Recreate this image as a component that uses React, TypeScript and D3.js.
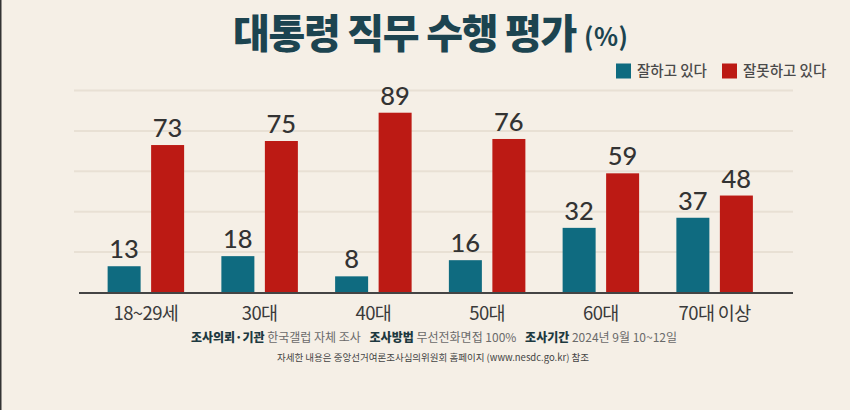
import React from "react";
import * as d3 from "d3";

const categories = ["18~29세", "30대", "40대", "50대", "60대", "70대 이상"];
const goodValues = [13, 18, 8, 16, 32, 37];
const badValues = [73, 75, 89, 76, 59, 48];
const seriesNames = ["잘하고 있다", "잘못하고 있다"];
const gridTicks = [20, 40, 60, 80, 100];

const W = 850;
const H = 410;
const TEAL = "#0f6b80";
const RED = "#bc1a14";
const BG = "#f5efe6";
const KR = "'Noto Sans CJK KR', 'Noto Sans', sans-serif";

export default function App() {
  const x = d3.scaleBand<string>().domain(categories).range([89, 771.5]).padding(0);
  const y = d3.scaleLinear().domain([0, 100]).range([292.5, 90.5]);
  const barW = 33;
  const gap = 10.5;

  return (
    <svg
      width={W}
      height={H}
      viewBox={`0 0 ${W} ${H}`}
      style={{ position: "absolute", left: 0, top: 0, display: "block" }}
    >
      <rect x={0} y={0} width={W} height={H} fill={BG} />
      <rect x={0} y={0} width={1.5} height={H} fill="#333" />

      {/* Title */}
      <text
        x={233}
        y={48}
        fontFamily={KR}
        fontWeight={900}
        fontSize={40}
        letterSpacing={-1.3}
        fill="#1c4450"
      >
        대통령 직무 수행 평가
      </text>
      <text x={584} y={46} fontFamily={KR} fontWeight={600} fontSize={25} letterSpacing={0.5} fill="#1c4450">
        (%)
      </text>

      {/* Legend */}
      <rect x={616} y={63.5} width={15} height={15} fill={TEAL} />
      <text x={637} y={76} fontFamily={KR} fontSize={14.5} fontWeight={500} fill="#4a4a4a">
        {seriesNames[0]}
      </text>
      <rect x={722} y={63.5} width={15} height={15} fill={RED} />
      <text x={743} y={76} fontFamily={KR} fontSize={14.5} fontWeight={500} fill="#4a4a4a">
        {seriesNames[1]}
      </text>

      {/* Grid */}
      {gridTicks.map((t) => (
        <line key={t} x1={74} x2={793} y1={y(t)} y2={y(t)} stroke="#e8e0d4" strokeWidth={2} />
      ))}

      {/* Bars */}
      {categories.map((c, i) => {
        const cx = (x(c) as number) + x.bandwidth() / 2;
        const gx = cx - gap / 2 - barW;
        const rx = cx + gap / 2;
        return (
          <g key={c}>
            <rect x={gx} y={y(goodValues[i])} width={barW} height={y(0) - y(goodValues[i])} fill={TEAL} />
            <rect x={rx} y={y(badValues[i])} width={barW} height={y(0) - y(badValues[i])} fill={RED} />
            <text
              x={gx + barW / 2}
              y={y(goodValues[i]) - 8}
              textAnchor="middle"
              fontFamily="Lato, sans-serif"
              fontSize={25.5}
              fontWeight={500}
              fill="#333"
            >
              {goodValues[i]}
            </text>
            <text
              x={rx + barW / 2}
              y={y(badValues[i]) - 8}
              textAnchor="middle"
              fontFamily="Lato, sans-serif"
              fontSize={25.5}
              fontWeight={500}
              fill="#333"
            >
              {badValues[i]}
            </text>
            <text
              x={cx}
              y={320}
              textAnchor="middle"
              fontFamily={KR}
              fontSize={18.5}
              letterSpacing={-0.6}
              fill="#3a3a3a"
            >
              {c}
            </text>
          </g>
        );
      })}

      {/* Axis line */}
      <line x1={79} x2={793} y1={y(0) + 0.5} y2={y(0) + 0.5} stroke="#444" strokeWidth={2} />

      {/* Footnotes */}
      <text x={434} y={342} textAnchor="middle" fontFamily={KR} fontSize={12} fill="#6a6a6a">
        <tspan fontWeight={900} fill="#1d3940">조사의뢰·기관</tspan>
        <tspan> 한국갤럽 자체 조사 </tspan>
        <tspan dx={6} fontWeight={900} fill="#1d3940">조사방법</tspan>
        <tspan> 무선전화면접 100% </tspan>
        <tspan dx={6} fontWeight={900} fill="#1d3940">조사기간</tspan>
        <tspan> 2024년 9월 10~12일</tspan>
      </text>
      <text x={433} y={361} textAnchor="middle" fontFamily={KR} fontSize={9.5} fill="#444">
        자세한 내용은 중앙선거여론조사심의위원회 홈페이지 (www.nesdc.go.kr) 참조
      </text>
    </svg>
  );
}
